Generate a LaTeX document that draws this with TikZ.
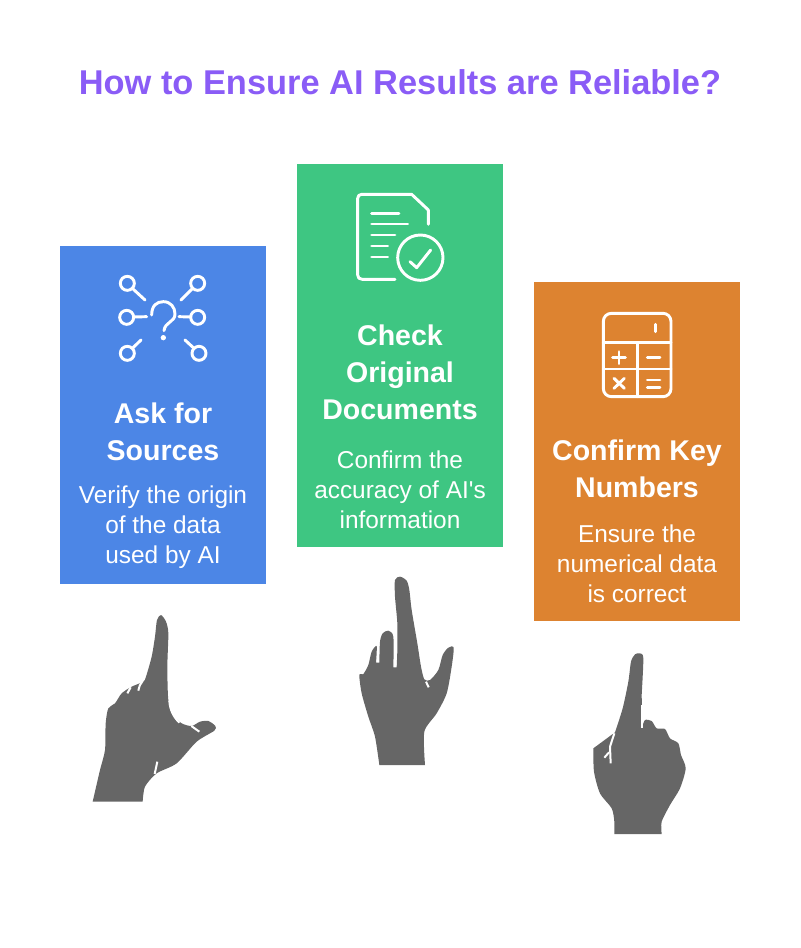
\documentclass[tikz,border=0pt]{standalone}
\usepackage{fontspec}
\setmainfont{Liberation Sans}
\definecolor{cardblue}{HTML}{4C86E6}
\definecolor{cardgreen}{HTML}{3EC682}
\definecolor{cardorange}{HTML}{DD8330}
\definecolor{titlepurple}{HTML}{8A5CF6}
\definecolor{handgray}{HTML}{666666}
\tikzset{
  card/.style={minimum width=154.5pt,inner sep=0pt},
  cardhead/.style={text=white,align=center,font=\fontsize{21.4}{27.75}\selectfont\bfseries},
  cardtext/.style={text=white,align=center,font=\fontsize{18.3}{22.5}\selectfont},
  icon/.style={draw=white,line width=2.2pt,line cap=round,line join=round},
  slit/.style={draw=white,line width=1.5pt},
}
\begin{document}
\begin{tikzpicture}[x=0.75pt,y=-0.75pt]
  \useasboundingbox (0,0) rectangle (800,948);
  \node[text=titlepurple,font=\fontsize{25.8}{32}\selectfont\bfseries] (title) at (400,82) {How to Ensure AI Results are Reliable?};
  % cards
  \node[card,fill=cardblue,minimum height=253.5pt] (cardA) at (163,415) {};
  \node[card,fill=cardgreen,minimum height=287.25pt] (cardB) at (400,355.5) {};
  \node[card,fill=cardorange,minimum height=254.25pt] (cardC) at (637,451.5) {};
  % card texts
  \node[cardhead] (headA) at (163,432) {Ask for\\Sources};
  \node[cardtext] (textA) at (163,527) {Verify the origin\\of the data\\used by AI};
  \node[cardhead] (headB) at (400,372) {Check\\Original\\Documents};
  \node[cardtext] (textB) at (400,490) {Confirm the\\accuracy of AI\textquotesingle s\\information};
  \node[cardhead] (headC) at (637,469) {Confirm Key\\Numbers};
  \node[cardtext] (textC) at (637,564) {Ensure the\\numerical data\\is correct};
  % icon sources
  \begin{scope}[shift={(105,265)},x=0.25pt,y=-0.25pt]
    \foreach \cx/\cy/\ex/\ey/\fx/\fy in {67/55/82/70/120/105, 278/55/263/70/228/105, 65/157/85/156/125/155, 278/157/258/156/222/155, 67/265/82/250/108/225, 282/265/267/250/240/225} {
      \draw[icon] (\cx,\cy) circle (21);
      \draw[icon] (\ex,\ey) -- (\fx,\fy);
    }
    \draw[icon] (140,150) .. controls (140,122) and (155,110) .. (175,110) .. controls (197,110) and (210,127) .. (210,147) .. controls (210,172) and (180,170) .. (177,197);
    \fill[white] (175,218) circle (8);
  \end{scope}
  % icon document
  \begin{scope}[shift={(345,185)},x=0.25pt,y=-0.25pt]
    \draw[icon] (150,283) -- (52,283) .. controls (43,283) and (38,278) .. (38,270) -- (38,40) .. controls (38,33) and (43,28) .. (50,28) -- (200,28) -- (250,75) -- (250,118);
    \foreach \ly/\lx in {85/162, 117/188, 150/150, 183/128, 216/128}
      \draw[icon] (80,\ly) -- (\lx,\ly);
    \draw[icon] (226,218) circle (68);
    \draw[icon] (195,230) -- (215,248) -- (257,195);
  \end{scope}
  % icon calculator
  \begin{scope}[shift={(590,305)},x=0.25pt,y=-0.25pt]
    \draw[icon,rounded corners=6pt] (40,25) rectangle (243,275);
    \draw[icon] (40,113) -- (243,113);
    \draw[icon] (40,192) -- (243,192);
    \draw[icon] (143,113) -- (143,275);
    \draw[icon] (197,58) -- (197,80);
    \draw[icon] (68,157) -- (106,157);
    \draw[icon] (87,140) -- (87,176);
    \draw[icon] (172,157) -- (210,157);
    \draw[icon] (72,220) -- (103,250);
    \draw[icon] (103,220) -- (72,250);
    \draw[icon] (172,225) -- (210,225);
    \draw[icon] (172,247) -- (210,247);
  \end{scope}
  % hand left
  \begin{scope}[shift={(60,600)},x=0.25pt,y=-0.25pt]
    \fill[handgray] (98,605) -- (248,605) --plot[smooth,tension=0.45] coordinates {(248,605) (255,560) (290,520) (350,490) (410,425) (463,392) (466,378) (445,363) (420,365) (395,378) (365,370) (340,345) (325,300) (322,200) (325,100) (318,65) (303,45) (291,60) (285,110) (275,170) (258,230) (250,245) (215,260) (185,280) (165,310) (145,325) (137,370) (135,450) (120,510) (98,605)} -- cycle;
    \draw[slit] (248,243) .. controls (240,250) and (238,260) .. (235,272);
    \draw[slit] (212,262) -- (202,280);
    \draw[slit] (328,303) .. controls (330,330) and (340,350) .. (358,368);
    \draw[slit] (394,378) -- (418,395);
    \draw[slit] (292,485) -- (284,522);
  \end{scope}
  % hand middle
  \begin{scope}[shift={(340,570)},x=0.25pt,y=-0.25pt]
    \fill[handgray] (118,585) -- (255,585) --plot[smooth,tension=0.45] coordinates {(255,585) (253,485) (290,430) (320,370) (335,290) (341,233) (325,233) (308,255) (295,300) (270,330) (253,328) (243,290) (232,220) (215,120) (208,60) (200,32) (180,20) (165,30) (165,80) (172,160) (172,240) (170,292)} -- (160,292) --plot[smooth,tension=0.45] coordinates {(160,292) (160,200) (145,182) (128,190) (120,215) (118,278)} -- (108,278) --plot[smooth,tension=0.45] coordinates {(108,278) (110,228) (95,245) (85,285) (70,312) (58,315) (65,370) (85,440) (105,500) (118,585)} -- cycle;
    \draw[slit] (75,275) -- (66,312);
    \draw[slit] (258,335) -- (266,352);
  \end{scope}
  % hand right
  \begin{scope}[shift={(570,645)},x=0.25pt,y=-0.25pt]
    \fill[handgray] (133,567) -- (275,567) --plot[smooth,tension=0.45] coordinates {(275,567) (275,530) (300,480) (330,430) (347,370) (333,330) (325,295) (300,280) (285,252) (260,250) (245,228) (225,225) (217,245)} -- (215,150) --plot[smooth,tension=0.45] coordinates {(215,150) (220,40) (210,25) (195,28) (183,50) (175,110) (158,190) (135,262)} -- (70,310) --plot[smooth,tension=0.45] coordinates {(70,310) (72,380) (90,445) (125,490) (133,530) (133,567)} -- cycle;
    \draw[slit] (133,265) -- (120,305) -- (122,355);
    \draw[slit] (117,322) -- (103,338);
    \draw[slit] (215,180) -- (215,250);
  \end{scope}
\end{tikzpicture}
\end{document}
